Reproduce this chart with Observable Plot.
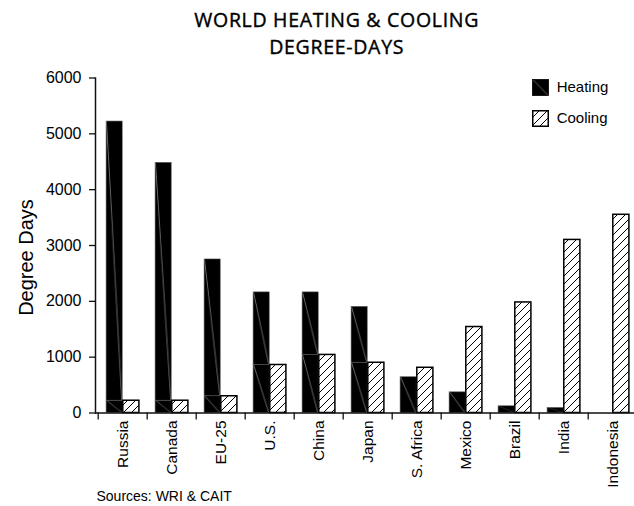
<!DOCTYPE html>
<html>
<head>
<meta charset="utf-8">
<script src="https://cdn.jsdelivr.net/npm/d3@7"></script>
<script src="https://cdn.jsdelivr.net/npm/@observablehq/plot@0.6"></script>
<style>
  body { margin: 0; overflow: hidden; background: #fff; }
  #wrap { position: relative; width: 634px; height: 506px; overflow: hidden; background: #fff;
          font-family: "Liberation Sans", Arial, sans-serif; color: #000; }
  #title { position: absolute; left: 86.7px; width: 500px; top: 7.4px; text-align: center;
           font-family: "Open Sans", sans-serif; font-size: 19.5px; letter-spacing: 0.7px;
           line-height: 26.7px; color: #000; margin: 0; font-weight: 400;
           -webkit-text-stroke: 0.4px #000; }
  .leg { position: absolute; font-size: 15px; line-height: 15px; white-space: nowrap; }
  .sw { position: absolute; }
  #caption { position: absolute; left: 96.5px; top: 488.6px; font-size: 14px; line-height: 14px; white-space: nowrap; }
  #chart { position: absolute; left: 0; top: 0; }
</style>
</head>
<body>
<svg width="0" height="0" style="position:absolute">
  <defs>
    <pattern id="heat" patternUnits="objectBoundingBox" patternContentUnits="objectBoundingBox" x="0" y="0" width="1" height="1">
      <rect x="0" y="0" width="1" height="1" fill="#000"></rect>
      <polygon points="0,0 0.05,0 1,1 0.95,1" fill="#7a7a7a"></polygon>
    </pattern>
    <pattern id="cool" patternUnits="userSpaceOnUse" x="0" y="0" width="8" height="8">
      <rect x="0" y="0" width="8" height="8" fill="#fff"></rect>
      <path d="M-2,2 L2,-2 M0,8 L8,0 M6,10 L10,6" stroke="#000" stroke-width="1"></path>
    </pattern>
  </defs>
</svg>
<div id="wrap">
  <div id="chart"></div>
  <div id="title">WORLD HEATING &amp; COOLING<br>DEGREE-DAYS</div>
  <svg class="sw" style="left:532px;top:79px" width="17" height="17"><rect x="0.5" y="0.5" width="16" height="16" fill="url(#heat)" stroke="#000" stroke-width="0.8"></rect></svg>
  <div class="leg" style="left:556.7px;top:79px">Heating</div>
  <svg class="sw" style="left:532px;top:109.5px" width="17" height="17"><rect x="0.75" y="0.75" width="15.5" height="15.5" fill="url(#cool)" stroke="#000" stroke-width="1.5"></rect></svg>
  <div class="leg" style="left:556.7px;top:109.6px">Cooling</div>
  <div id="caption">Sources: WRI &amp; CAIT</div>
</div>
<script>
// ---- data ----
const countries = ["Russia", "Canada", "EU-25", "U.S.", "China", "Japan", "S. Africa", "Mexico", "Brazil", "India", "Indonesia"];
const heating   = [5220, 4480, 2750, 2160, 2160, 1900, 640, 370, 120, 90, 0];
const cooling   = [220, 220, 300, 860, 1040, 900, 810, 1540, 1980, 3100, 3550];
const yTicks    = [0, 1000, 2000, 3000, 4000, 5000, 6000];
const yLabel    = "Degree Days";

const rows = countries.map((c, i) => ({country: c, heating: heating[i], cooling: cooling[i]}));

// ---- layout ----
const W = 634, H = 506;
const mL = 95, mR = -6.6, mT = 77.5, mB = 93.5;
const bw = (W - mL - mR) / countries.length; // band width
const pad = 8.1;

const chart = Plot.plot({
  width: W,
  height: H,
  marginLeft: mL,
  marginRight: mR,
  marginTop: mT,
  marginBottom: mB,
  style: {fontFamily: "Liberation Sans, Arial, sans-serif", fontSize: "15px", color: "#000", background: "transparent", overflow: "hidden"},
  x: {domain: countries, padding: 0, label: null},
  y: {domain: [0, 6000], label: null},
  marks: [
    // heating: lower part (up to cooling level) and upper part
    Plot.barY(rows.filter(d => d.heating > 0), {
      x: "country", y1: 0, y2: d => Math.min(d.heating, d.cooling),
      insetLeft: pad, insetRight: bw / 2,
      fill: "url(#heat)", stroke: "#555", strokeWidth: 0.6
    }),
    Plot.barY(rows.filter(d => d.heating > d.cooling), {
      x: "country", y1: d => d.cooling, y2: "heating",
      insetLeft: pad, insetRight: bw / 2,
      fill: "url(#heat)", stroke: "#555", strokeWidth: 0.6
    }),
    // cooling
    Plot.barY(rows, {
      x: "country", y: "cooling",
      insetLeft: bw / 2, insetRight: pad,
      fill: "url(#cool)", stroke: "#000", strokeWidth: 1.5
    }),
    // axis lines
    Plot.ruleY([0], {stroke: "#111", strokeWidth: 1.5}),
    Plot.frame({anchor: "left", stroke: "#111", strokeWidth: 1.5}),
    // y axis
    Plot.axisY({ticks: yTicks, tickFormat: d => String(d), tickSize: 6, tickPadding: 8,
                fontSize: 16, stroke: "#111", strokeWidth: 1.3, label: null}),
    // x axis: boundary ticks between categories
    Plot.axisX({tickSize: 7, fill: "none", dx: -bw / 2, stroke: "#111", strokeWidth: 1.3, label: null}),
    // x axis: rotated labels
    Plot.axisX({tickSize: 0, tickPadding: 7.5, tickRotate: -90, fontSize: 15.5, label: null}),
    // y axis title
    Plot.text([yLabel], {text: d => d, frameAnchor: "left", textAnchor: "middle", rotate: -90,
                         dx: -69.4, dy: 12, fontSize: 20, fill: "#000"})
  ]
});
document.getElementById("chart").appendChild(chart);
</script>
</body>
</html>
